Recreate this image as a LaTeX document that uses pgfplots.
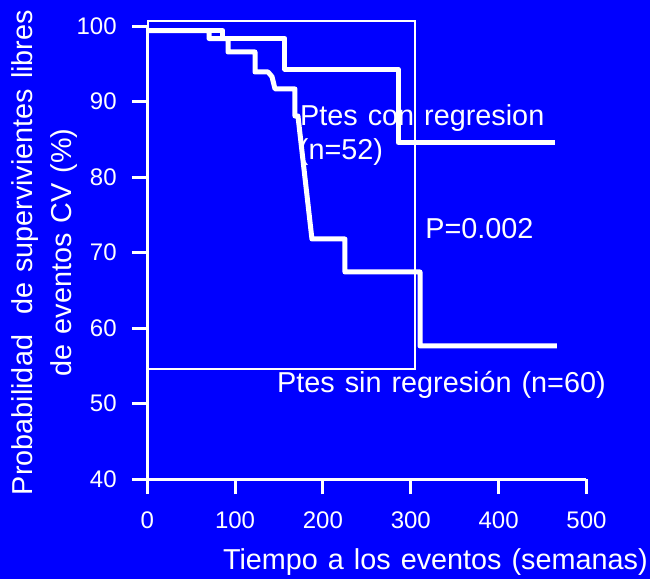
\documentclass[border=0pt]{standalone}
\usepackage{fontspec}
\setmainfont{Liberation Sans}
\usepackage{pgfplots}
\pgfplotsset{compat=1.18}
\definecolor{bgblue}{HTML}{0000FF}

\begin{document}
\begin{tikzpicture}[x=1pt,y=1pt]
  % blue page
  \fill[bgblue] (-147.2,-100) rectangle (502.8,479);
  \begin{axis}[
    at={(0,0)}, anchor=south west,
    scale only axis,
    width=439.3pt, height=453pt,
    xmin=0, xmax=500, ymin=40, ymax=100,
    axis x line=bottom, axis y line=left,
    axis line style={white, line width=3pt, -},
    xtick={0,100,...,500}, ytick={40,50,...,100},
    tick align=outside, major tick length=15pt,
    tick style={white, line width=3pt},
    /pgf/number format/assume math mode=true,
    ticklabel style={font=\fontsize{24}{28}\selectfont, text=white},
    xticklabel style={yshift=-14pt},
    yticklabel style={xshift=-12pt},
    clip=false,
  ]
    % frame box drawn in the original slide
    \draw[white, line width=2.4pt] (axis cs:1,54.57) rectangle (axis cs:304.8,100.66);

    % Ptes con regresion (n=52)
    \addplot[white, line width=5pt, line join=round] coordinates {
      (0,99.4) (86,99.4) (86,98.34) (156.8,98.34) (156.8,94.3)
      (285.5,94.3) (285.5,84.6) (464.1,84.6)
    };
    % Ptes sin regresion (n=60)
    \addplot[white, line width=5pt, line join=round] coordinates {
      (0,99.4) (70.4,99.4) (70.4,98.34) (92,98.34) (92,96.56)
      (122.7,96.56) (122.7,93.91) (137.5,93.91) (142,93.3) (145.5,91.66)
      (168.2,91.66) (168.2,88.08) (171.6,88.08) (187.5,71.79)
      (225.1,71.79) (225.1,67.42) (310.5,67.42) (310.5,57.62) (466.4,57.62)
    };

    \def\lab{\fontsize{28.8}{34}\selectfont\spaceskip=10pt\relax}
    \node[anchor=base west, text=white, inner sep=0pt, font=\lab] at (axis cs:173.9,86.8) {Ptes con regresion};
    \node[anchor=base west, text=white, inner sep=0pt, font=\lab] at (axis cs:172.5,82.38) {(n=52)};
    \node[anchor=base west, text=white, inner sep=0pt, font=\lab] at (axis cs:316.3,71.79) {P=0.002};
    \node[anchor=base west, text=white, inner sep=0pt, font=\lab] at (axis cs:147.7,51.48) {Ptes sin regresión (n=60)};
    \node[anchor=base, text=white, inner sep=0pt, font=\lab] at (axis cs:328,28.08) {Tiempo a los eventos (semanas)};
    \node[anchor=base, rotate=90, text=white, inner sep=0pt, font=\lab] at (axis cs:-130,70) {Probabilidad\hspace{20pt}de supervivientes libres};
    \node[anchor=base, rotate=90, text=white, inner sep=0pt, font=\lab] at (axis cs:-85.6,70) {de eventos CV (\%)};
  \end{axis}
  \pgfresetboundingbox
  \path (-147.2,-100) rectangle (502.8,479);
\end{tikzpicture}
\end{document}
